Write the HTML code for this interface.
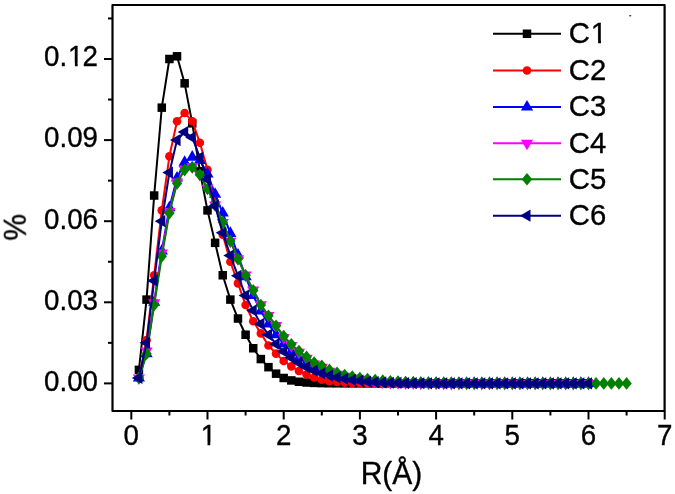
<!DOCTYPE html>
<html><head><meta charset="utf-8"><style>
html,body{margin:0;padding:0;background:#fff;}
svg{display:block;}
.t{font-family:"Liberation Sans",sans-serif;font-size:28px;fill:#000;stroke:#000;stroke-width:0.35px;}
</style></head><body>
<svg width="675" height="494" viewBox="0 0 675 494">
<rect width="675" height="494" fill="#fff"/>
<filter id="gs" x="-20%" y="-20%" width="140%" height="140%" color-interpolation-filters="sRGB"><feColorMatrix type="saturate" values="0"/></filter>
<clipPath id="cp"><rect x="112.5" y="5.0" width="552.1" height="406.0"/></clipPath>
<g clip-path="url(#cp)">
<polyline points="138.92,369.88 146.54,299.60 154.16,195.52 161.78,107.66 169.40,59.00 177.02,56.30 184.64,83.33 192.26,123.34 199.88,171.19 207.50,210.39 215.12,242.83 222.74,275.27 230.36,299.60 237.98,318.52 245.60,334.74 253.22,348.26 260.84,359.07 268.46,367.18 276.08,373.67 283.70,377.99 291.32,380.43 298.94,381.76 306.56,382.50 314.18,382.91 321.80,383.13 329.42,383.25 337.04,383.32 344.66,383.35 352.28,383.38 359.90,383.39 367.52,383.39 375.14,383.40 382.76,383.40 390.38,383.40 398.00,383.40 405.62,383.40 413.24,383.40 420.86,383.40 428.48,383.40 436.10,383.40 443.72,383.40 451.34,383.40 458.96,383.40 466.58,383.40 474.20,383.40 481.82,383.40 489.44,383.40 497.06,383.40 504.68,383.40 512.30,383.40 519.92,383.40 527.54,383.40 535.16,383.40 542.78,383.40 550.40,383.40 558.02,383.40 565.64,383.40 573.26,383.40 580.88,383.40 588.50,383.40" fill="none" stroke="#000000" stroke-width="2.0" stroke-linejoin="round"/>
<rect x="134.67" y="365.63" width="8.5" height="8.5" fill="#000000"/>
<rect x="142.29" y="295.35" width="8.5" height="8.5" fill="#000000"/>
<rect x="149.91" y="191.27" width="8.5" height="8.5" fill="#000000"/>
<rect x="157.53" y="103.41" width="8.5" height="8.5" fill="#000000"/>
<rect x="165.15" y="54.75" width="8.5" height="8.5" fill="#000000"/>
<rect x="172.77" y="52.05" width="8.5" height="8.5" fill="#000000"/>
<rect x="180.39" y="79.08" width="8.5" height="8.5" fill="#000000"/>
<rect x="188.01" y="119.09" width="8.5" height="8.5" fill="#000000"/>
<rect x="195.63" y="166.94" width="8.5" height="8.5" fill="#000000"/>
<rect x="203.25" y="206.14" width="8.5" height="8.5" fill="#000000"/>
<rect x="210.87" y="238.58" width="8.5" height="8.5" fill="#000000"/>
<rect x="218.49" y="271.02" width="8.5" height="8.5" fill="#000000"/>
<rect x="226.11" y="295.35" width="8.5" height="8.5" fill="#000000"/>
<rect x="233.73" y="314.27" width="8.5" height="8.5" fill="#000000"/>
<rect x="241.35" y="330.49" width="8.5" height="8.5" fill="#000000"/>
<rect x="248.97" y="344.01" width="8.5" height="8.5" fill="#000000"/>
<rect x="256.59" y="354.82" width="8.5" height="8.5" fill="#000000"/>
<rect x="264.21" y="362.93" width="8.5" height="8.5" fill="#000000"/>
<rect x="271.83" y="369.42" width="8.5" height="8.5" fill="#000000"/>
<rect x="279.45" y="373.74" width="8.5" height="8.5" fill="#000000"/>
<rect x="287.07" y="376.18" width="8.5" height="8.5" fill="#000000"/>
<rect x="294.69" y="377.51" width="8.5" height="8.5" fill="#000000"/>
<rect x="302.31" y="378.25" width="8.5" height="8.5" fill="#000000"/>
<rect x="309.93" y="378.66" width="8.5" height="8.5" fill="#000000"/>
<rect x="317.55" y="378.88" width="8.5" height="8.5" fill="#000000"/>
<rect x="325.17" y="379.00" width="8.5" height="8.5" fill="#000000"/>
<rect x="332.79" y="379.07" width="8.5" height="8.5" fill="#000000"/>
<rect x="340.41" y="379.10" width="8.5" height="8.5" fill="#000000"/>
<rect x="348.03" y="379.13" width="8.5" height="8.5" fill="#000000"/>
<rect x="355.65" y="379.14" width="8.5" height="8.5" fill="#000000"/>
<rect x="363.27" y="379.14" width="8.5" height="8.5" fill="#000000"/>
<rect x="370.89" y="379.15" width="8.5" height="8.5" fill="#000000"/>
<rect x="378.51" y="379.15" width="8.5" height="8.5" fill="#000000"/>
<rect x="386.13" y="379.15" width="8.5" height="8.5" fill="#000000"/>
<rect x="393.75" y="379.15" width="8.5" height="8.5" fill="#000000"/>
<rect x="401.37" y="379.15" width="8.5" height="8.5" fill="#000000"/>
<rect x="408.99" y="379.15" width="8.5" height="8.5" fill="#000000"/>
<rect x="416.61" y="379.15" width="8.5" height="8.5" fill="#000000"/>
<rect x="424.23" y="379.15" width="8.5" height="8.5" fill="#000000"/>
<rect x="431.85" y="379.15" width="8.5" height="8.5" fill="#000000"/>
<rect x="439.47" y="379.15" width="8.5" height="8.5" fill="#000000"/>
<rect x="447.09" y="379.15" width="8.5" height="8.5" fill="#000000"/>
<rect x="454.71" y="379.15" width="8.5" height="8.5" fill="#000000"/>
<rect x="462.33" y="379.15" width="8.5" height="8.5" fill="#000000"/>
<rect x="469.95" y="379.15" width="8.5" height="8.5" fill="#000000"/>
<rect x="477.57" y="379.15" width="8.5" height="8.5" fill="#000000"/>
<rect x="485.19" y="379.15" width="8.5" height="8.5" fill="#000000"/>
<rect x="492.81" y="379.15" width="8.5" height="8.5" fill="#000000"/>
<rect x="500.43" y="379.15" width="8.5" height="8.5" fill="#000000"/>
<rect x="508.05" y="379.15" width="8.5" height="8.5" fill="#000000"/>
<rect x="515.67" y="379.15" width="8.5" height="8.5" fill="#000000"/>
<rect x="523.29" y="379.15" width="8.5" height="8.5" fill="#000000"/>
<rect x="530.91" y="379.15" width="8.5" height="8.5" fill="#000000"/>
<rect x="538.53" y="379.15" width="8.5" height="8.5" fill="#000000"/>
<rect x="546.15" y="379.15" width="8.5" height="8.5" fill="#000000"/>
<rect x="553.77" y="379.15" width="8.5" height="8.5" fill="#000000"/>
<rect x="561.39" y="379.15" width="8.5" height="8.5" fill="#000000"/>
<rect x="569.01" y="379.15" width="8.5" height="8.5" fill="#000000"/>
<rect x="576.63" y="379.15" width="8.5" height="8.5" fill="#000000"/>
<rect x="584.25" y="379.15" width="8.5" height="8.5" fill="#000000"/>
<polyline points="138.92,377.99 146.54,340.15 154.16,275.27 161.78,210.39 169.40,156.32 177.02,121.18 184.64,113.07 192.26,121.18 199.88,142.81 207.50,169.84 215.12,202.28 222.74,234.72 230.36,261.75 237.98,283.38 245.60,305.00 253.22,321.22 260.84,333.39 268.46,345.55 276.08,353.66 283.70,360.96 291.32,366.37 298.94,370.96 306.56,374.48 314.18,377.45 321.80,379.62 329.42,381.13 337.04,382.04 344.66,382.58 352.28,382.91 359.90,383.11 367.52,383.22 375.14,383.29 382.76,383.34 390.38,383.36 398.00,383.38 405.62,383.39 413.24,383.39 420.86,383.40 428.48,383.40 436.10,383.40 443.72,383.40 451.34,383.40 458.96,383.40 466.58,383.40 474.20,383.40 481.82,383.40 489.44,383.40 497.06,383.40 504.68,383.40 512.30,383.40 519.92,383.40 527.54,383.40 535.16,383.40 542.78,383.40 550.40,383.40 558.02,383.40 565.64,383.40 573.26,383.40 580.88,383.40 588.50,383.40" fill="none" stroke="#ff0000" stroke-width="2.0" stroke-linejoin="round"/>
<circle cx="138.92" cy="377.99" r="4.3" fill="#ff0000"/>
<circle cx="146.54" cy="340.15" r="4.3" fill="#ff0000"/>
<circle cx="154.16" cy="275.27" r="4.3" fill="#ff0000"/>
<circle cx="161.78" cy="210.39" r="4.3" fill="#ff0000"/>
<circle cx="169.40" cy="156.32" r="4.3" fill="#ff0000"/>
<circle cx="177.02" cy="121.18" r="4.3" fill="#ff0000"/>
<circle cx="184.64" cy="113.07" r="4.3" fill="#ff0000"/>
<circle cx="192.26" cy="121.18" r="4.3" fill="#ff0000"/>
<circle cx="199.88" cy="142.81" r="4.3" fill="#ff0000"/>
<circle cx="207.50" cy="169.84" r="4.3" fill="#ff0000"/>
<circle cx="215.12" cy="202.28" r="4.3" fill="#ff0000"/>
<circle cx="222.74" cy="234.72" r="4.3" fill="#ff0000"/>
<circle cx="230.36" cy="261.75" r="4.3" fill="#ff0000"/>
<circle cx="237.98" cy="283.38" r="4.3" fill="#ff0000"/>
<circle cx="245.60" cy="305.00" r="4.3" fill="#ff0000"/>
<circle cx="253.22" cy="321.22" r="4.3" fill="#ff0000"/>
<circle cx="260.84" cy="333.39" r="4.3" fill="#ff0000"/>
<circle cx="268.46" cy="345.55" r="4.3" fill="#ff0000"/>
<circle cx="276.08" cy="353.66" r="4.3" fill="#ff0000"/>
<circle cx="283.70" cy="360.96" r="4.3" fill="#ff0000"/>
<circle cx="291.32" cy="366.37" r="4.3" fill="#ff0000"/>
<circle cx="298.94" cy="370.96" r="4.3" fill="#ff0000"/>
<circle cx="306.56" cy="374.48" r="4.3" fill="#ff0000"/>
<circle cx="314.18" cy="377.45" r="4.3" fill="#ff0000"/>
<circle cx="321.80" cy="379.62" r="4.3" fill="#ff0000"/>
<circle cx="329.42" cy="381.13" r="4.3" fill="#ff0000"/>
<circle cx="337.04" cy="382.04" r="4.3" fill="#ff0000"/>
<circle cx="344.66" cy="382.58" r="4.3" fill="#ff0000"/>
<circle cx="352.28" cy="382.91" r="4.3" fill="#ff0000"/>
<circle cx="359.90" cy="383.11" r="4.3" fill="#ff0000"/>
<circle cx="367.52" cy="383.22" r="4.3" fill="#ff0000"/>
<circle cx="375.14" cy="383.29" r="4.3" fill="#ff0000"/>
<circle cx="382.76" cy="383.34" r="4.3" fill="#ff0000"/>
<circle cx="390.38" cy="383.36" r="4.3" fill="#ff0000"/>
<circle cx="398.00" cy="383.38" r="4.3" fill="#ff0000"/>
<circle cx="405.62" cy="383.39" r="4.3" fill="#ff0000"/>
<circle cx="413.24" cy="383.39" r="4.3" fill="#ff0000"/>
<circle cx="420.86" cy="383.40" r="4.3" fill="#ff0000"/>
<circle cx="428.48" cy="383.40" r="4.3" fill="#ff0000"/>
<circle cx="436.10" cy="383.40" r="4.3" fill="#ff0000"/>
<circle cx="443.72" cy="383.40" r="4.3" fill="#ff0000"/>
<circle cx="451.34" cy="383.40" r="4.3" fill="#ff0000"/>
<circle cx="458.96" cy="383.40" r="4.3" fill="#ff0000"/>
<circle cx="466.58" cy="383.40" r="4.3" fill="#ff0000"/>
<circle cx="474.20" cy="383.40" r="4.3" fill="#ff0000"/>
<circle cx="481.82" cy="383.40" r="4.3" fill="#ff0000"/>
<circle cx="489.44" cy="383.40" r="4.3" fill="#ff0000"/>
<circle cx="497.06" cy="383.40" r="4.3" fill="#ff0000"/>
<circle cx="504.68" cy="383.40" r="4.3" fill="#ff0000"/>
<circle cx="512.30" cy="383.40" r="4.3" fill="#ff0000"/>
<circle cx="519.92" cy="383.40" r="4.3" fill="#ff0000"/>
<circle cx="527.54" cy="383.40" r="4.3" fill="#ff0000"/>
<circle cx="535.16" cy="383.40" r="4.3" fill="#ff0000"/>
<circle cx="542.78" cy="383.40" r="4.3" fill="#ff0000"/>
<circle cx="550.40" cy="383.40" r="4.3" fill="#ff0000"/>
<circle cx="558.02" cy="383.40" r="4.3" fill="#ff0000"/>
<circle cx="565.64" cy="383.40" r="4.3" fill="#ff0000"/>
<circle cx="573.26" cy="383.40" r="4.3" fill="#ff0000"/>
<circle cx="580.88" cy="383.40" r="4.3" fill="#ff0000"/>
<circle cx="588.50" cy="383.40" r="4.3" fill="#ff0000"/>
<polyline points="138.92,377.99 146.54,353.66 154.16,302.30 161.78,250.94 169.40,207.69 177.02,177.95 184.64,162.27 192.26,157.13 199.88,160.38 207.50,173.89 215.12,194.17 222.74,213.09 230.36,233.37 237.98,254.99 245.60,276.62 253.22,295.54 260.84,310.95 268.46,323.93 276.08,334.74 283.70,343.93 291.32,351.50 298.94,357.72 306.56,362.85 314.18,367.18 321.80,370.69 329.42,373.40 337.04,375.56 344.66,377.45 352.28,378.80 359.90,379.89 367.52,380.70 375.14,381.51 382.76,382.08 390.38,382.47 398.00,382.75 405.62,382.95 413.24,383.08 420.86,383.18 428.48,383.24 436.10,383.29 443.72,383.32 451.34,383.35 458.96,383.36 466.58,383.37 474.20,383.38 481.82,383.39 489.44,383.39 497.06,383.39 504.68,383.40 512.30,383.40 519.92,383.40 527.54,383.40 535.16,383.40 542.78,383.40 550.40,383.40 558.02,383.40 565.64,383.40 573.26,383.40 580.88,383.40 588.50,383.40" fill="none" stroke="#0000ff" stroke-width="2.0" stroke-linejoin="round"/>
<polygon points="138.92,370.95 132.82,381.52 145.02,381.52" fill="#0000ff"/>
<polygon points="146.54,346.62 140.44,357.19 152.64,357.19" fill="#0000ff"/>
<polygon points="154.16,295.26 148.06,305.82 160.26,305.82" fill="#0000ff"/>
<polygon points="161.78,243.89 155.68,254.46 167.88,254.46" fill="#0000ff"/>
<polygon points="169.40,200.64 163.30,211.21 175.50,211.21" fill="#0000ff"/>
<polygon points="177.02,170.91 170.92,181.47 183.12,181.47" fill="#0000ff"/>
<polygon points="184.64,155.23 178.54,165.79 190.74,165.79" fill="#0000ff"/>
<polygon points="192.26,150.09 186.16,160.66 198.36,160.66" fill="#0000ff"/>
<polygon points="199.88,153.33 193.78,163.90 205.98,163.90" fill="#0000ff"/>
<polygon points="207.50,166.85 201.40,177.42 213.60,177.42" fill="#0000ff"/>
<polygon points="215.12,187.13 209.02,197.69 221.22,197.69" fill="#0000ff"/>
<polygon points="222.74,206.05 216.64,216.61 228.84,216.61" fill="#0000ff"/>
<polygon points="230.36,226.32 224.26,236.89 236.46,236.89" fill="#0000ff"/>
<polygon points="237.98,247.95 231.88,258.52 244.08,258.52" fill="#0000ff"/>
<polygon points="245.60,269.58 239.50,280.14 251.70,280.14" fill="#0000ff"/>
<polygon points="253.22,288.50 247.12,299.06 259.32,299.06" fill="#0000ff"/>
<polygon points="260.84,303.91 254.74,314.47 266.94,314.47" fill="#0000ff"/>
<polygon points="268.46,316.88 262.36,327.45 274.56,327.45" fill="#0000ff"/>
<polygon points="276.08,327.70 269.98,338.26 282.18,338.26" fill="#0000ff"/>
<polygon points="283.70,336.89 277.60,347.45 289.80,347.45" fill="#0000ff"/>
<polygon points="291.32,344.46 285.22,355.02 297.42,355.02" fill="#0000ff"/>
<polygon points="298.94,350.67 292.84,361.24 305.04,361.24" fill="#0000ff"/>
<polygon points="306.56,355.81 300.46,366.38 312.66,366.38" fill="#0000ff"/>
<polygon points="314.18,360.14 308.08,370.70 320.28,370.70" fill="#0000ff"/>
<polygon points="321.80,363.65 315.70,374.22 327.90,374.22" fill="#0000ff"/>
<polygon points="329.42,366.35 323.32,376.92 335.52,376.92" fill="#0000ff"/>
<polygon points="337.04,368.52 330.94,379.08 343.14,379.08" fill="#0000ff"/>
<polygon points="344.66,370.41 338.56,380.97 350.76,380.97" fill="#0000ff"/>
<polygon points="352.28,371.76 346.18,382.33 358.38,382.33" fill="#0000ff"/>
<polygon points="359.90,372.84 353.80,383.41 366.00,383.41" fill="#0000ff"/>
<polygon points="367.52,373.65 361.42,384.22 373.62,384.22" fill="#0000ff"/>
<polygon points="375.14,374.46 369.04,385.03 381.24,385.03" fill="#0000ff"/>
<polygon points="382.76,375.03 376.66,385.60 388.86,385.60" fill="#0000ff"/>
<polygon points="390.38,375.43 384.28,385.99 396.48,385.99" fill="#0000ff"/>
<polygon points="398.00,375.71 391.90,386.27 404.10,386.27" fill="#0000ff"/>
<polygon points="405.62,375.90 399.52,386.47 411.72,386.47" fill="#0000ff"/>
<polygon points="413.24,376.04 407.14,386.60 419.34,386.60" fill="#0000ff"/>
<polygon points="420.86,376.13 414.76,386.70 426.96,386.70" fill="#0000ff"/>
<polygon points="428.48,376.20 422.38,386.77 434.58,386.77" fill="#0000ff"/>
<polygon points="436.10,376.25 430.00,386.81 442.20,386.81" fill="#0000ff"/>
<polygon points="443.72,376.28 437.62,386.85 449.82,386.85" fill="#0000ff"/>
<polygon points="451.34,376.30 445.24,386.87 457.44,386.87" fill="#0000ff"/>
<polygon points="458.96,376.32 452.86,386.88 465.06,386.88" fill="#0000ff"/>
<polygon points="466.58,376.33 460.48,386.90 472.68,386.90" fill="#0000ff"/>
<polygon points="474.20,376.34 468.10,386.90 480.30,386.90" fill="#0000ff"/>
<polygon points="481.82,376.34 475.72,386.91 487.92,386.91" fill="#0000ff"/>
<polygon points="489.44,376.35 483.34,386.91 495.54,386.91" fill="#0000ff"/>
<polygon points="497.06,376.35 490.96,386.92 503.16,386.92" fill="#0000ff"/>
<polygon points="504.68,376.35 498.58,386.92 510.78,386.92" fill="#0000ff"/>
<polygon points="512.30,376.35 506.20,386.92 518.40,386.92" fill="#0000ff"/>
<polygon points="519.92,376.35 513.82,386.92 526.02,386.92" fill="#0000ff"/>
<polygon points="527.54,376.35 521.44,386.92 533.64,386.92" fill="#0000ff"/>
<polygon points="535.16,376.36 529.06,386.92 541.26,386.92" fill="#0000ff"/>
<polygon points="542.78,376.36 536.68,386.92 548.88,386.92" fill="#0000ff"/>
<polygon points="550.40,376.36 544.30,386.92 556.50,386.92" fill="#0000ff"/>
<polygon points="558.02,376.36 551.92,386.92 564.12,386.92" fill="#0000ff"/>
<polygon points="565.64,376.36 559.54,386.92 571.74,386.92" fill="#0000ff"/>
<polygon points="573.26,376.36 567.16,386.92 579.36,386.92" fill="#0000ff"/>
<polygon points="580.88,376.36 574.78,386.92 586.98,386.92" fill="#0000ff"/>
<polygon points="588.50,376.36 582.40,386.92 594.60,386.92" fill="#0000ff"/>
<polyline points="138.92,377.99 146.54,350.96 154.16,302.84 161.78,253.10 169.40,211.47 177.02,182.00 184.64,169.57 192.26,166.60 199.88,174.43 207.50,188.22 215.12,204.98 222.74,222.55 230.36,241.21 237.98,258.78 245.60,275.00 253.22,290.14 260.84,304.73 268.46,315.55 276.08,325.55 283.70,337.44 291.32,345.55 298.94,352.31 306.56,358.26 314.18,363.94 321.80,367.18 329.42,371.24 337.04,374.21 344.66,376.37 352.28,377.99 359.90,379.35 367.52,380.43 375.14,381.32 382.76,381.94 390.38,382.38 398.00,382.69 405.62,382.90 413.24,383.05 420.86,383.16 428.48,383.23 436.10,383.28 443.72,383.32 451.34,383.34 458.96,383.36 466.58,383.37 474.20,383.38 481.82,383.39 489.44,383.39 497.06,383.39 504.68,383.40 512.30,383.40 519.92,383.40 527.54,383.40 535.16,383.40 542.78,383.40 550.40,383.40 558.02,383.40 565.64,383.40 573.26,383.40 580.88,383.40 588.50,383.40" fill="none" stroke="#ff00ff" stroke-width="2.0" stroke-linejoin="round"/>
<polygon points="138.92,385.04 132.82,374.47 145.02,374.47" fill="#ff00ff"/>
<polygon points="146.54,358.00 140.44,347.44 152.64,347.44" fill="#ff00ff"/>
<polygon points="154.16,309.89 148.06,299.32 160.26,299.32" fill="#ff00ff"/>
<polygon points="161.78,260.14 155.68,249.58 167.88,249.58" fill="#ff00ff"/>
<polygon points="169.40,218.51 163.30,207.95 175.50,207.95" fill="#ff00ff"/>
<polygon points="177.02,189.05 170.92,178.48 183.12,178.48" fill="#ff00ff"/>
<polygon points="184.64,176.61 178.54,166.05 190.74,166.05" fill="#ff00ff"/>
<polygon points="192.26,173.64 186.16,163.07 198.36,163.07" fill="#ff00ff"/>
<polygon points="199.88,181.48 193.78,170.91 205.98,170.91" fill="#ff00ff"/>
<polygon points="207.50,195.27 201.40,184.70 213.60,184.70" fill="#ff00ff"/>
<polygon points="215.12,212.03 209.02,201.46 221.22,201.46" fill="#ff00ff"/>
<polygon points="222.74,229.60 216.64,219.03 228.84,219.03" fill="#ff00ff"/>
<polygon points="230.36,248.25 224.26,237.68 236.46,237.68" fill="#ff00ff"/>
<polygon points="237.98,265.82 231.88,255.26 244.08,255.26" fill="#ff00ff"/>
<polygon points="245.60,282.04 239.50,271.48 251.70,271.48" fill="#ff00ff"/>
<polygon points="253.22,297.18 247.12,286.61 259.32,286.61" fill="#ff00ff"/>
<polygon points="260.84,311.78 254.74,301.21 266.94,301.21" fill="#ff00ff"/>
<polygon points="268.46,322.59 262.36,312.03 274.56,312.03" fill="#ff00ff"/>
<polygon points="276.08,332.59 269.98,322.03 282.18,322.03" fill="#ff00ff"/>
<polygon points="283.70,344.49 277.60,333.92 289.80,333.92" fill="#ff00ff"/>
<polygon points="291.32,352.60 285.22,342.03 297.42,342.03" fill="#ff00ff"/>
<polygon points="298.94,359.36 292.84,348.79 305.04,348.79" fill="#ff00ff"/>
<polygon points="306.56,365.30 300.46,354.74 312.66,354.74" fill="#ff00ff"/>
<polygon points="314.18,370.98 308.08,360.41 320.28,360.41" fill="#ff00ff"/>
<polygon points="321.80,374.22 315.70,363.66 327.90,363.66" fill="#ff00ff"/>
<polygon points="329.42,378.28 323.32,367.71 335.52,367.71" fill="#ff00ff"/>
<polygon points="337.04,381.25 330.94,370.69 343.14,370.69" fill="#ff00ff"/>
<polygon points="344.66,383.42 338.56,372.85 350.76,372.85" fill="#ff00ff"/>
<polygon points="352.28,385.04 346.18,374.47 358.38,374.47" fill="#ff00ff"/>
<polygon points="359.90,386.39 353.80,375.82 366.00,375.82" fill="#ff00ff"/>
<polygon points="367.52,387.47 361.42,376.90 373.62,376.90" fill="#ff00ff"/>
<polygon points="375.14,388.36 369.04,377.80 381.24,377.80" fill="#ff00ff"/>
<polygon points="382.76,388.99 376.66,378.42 388.86,378.42" fill="#ff00ff"/>
<polygon points="390.38,389.42 384.28,378.86 396.48,378.86" fill="#ff00ff"/>
<polygon points="398.00,389.73 391.90,379.16 404.10,379.16" fill="#ff00ff"/>
<polygon points="405.62,389.94 399.52,379.38 411.72,379.38" fill="#ff00ff"/>
<polygon points="413.24,390.09 407.14,379.53 419.34,379.53" fill="#ff00ff"/>
<polygon points="420.86,390.20 414.76,379.63 426.96,379.63" fill="#ff00ff"/>
<polygon points="428.48,390.27 422.38,379.71 434.58,379.71" fill="#ff00ff"/>
<polygon points="436.10,390.32 430.00,379.76 442.20,379.76" fill="#ff00ff"/>
<polygon points="443.72,390.36 437.62,379.79 449.82,379.79" fill="#ff00ff"/>
<polygon points="451.34,390.38 445.24,379.82 457.44,379.82" fill="#ff00ff"/>
<polygon points="458.96,390.40 452.86,379.84 465.06,379.84" fill="#ff00ff"/>
<polygon points="466.58,390.41 460.48,379.85 472.68,379.85" fill="#ff00ff"/>
<polygon points="474.20,390.42 468.10,379.86 480.30,379.86" fill="#ff00ff"/>
<polygon points="481.82,390.43 475.72,379.86 487.92,379.86" fill="#ff00ff"/>
<polygon points="489.44,390.43 483.34,379.87 495.54,379.87" fill="#ff00ff"/>
<polygon points="497.06,390.44 490.96,379.87 503.16,379.87" fill="#ff00ff"/>
<polygon points="504.68,390.44 498.58,379.87 510.78,379.87" fill="#ff00ff"/>
<polygon points="512.30,390.44 506.20,379.87 518.40,379.87" fill="#ff00ff"/>
<polygon points="519.92,390.44 513.82,379.88 526.02,379.88" fill="#ff00ff"/>
<polygon points="527.54,390.44 521.44,379.88 533.64,379.88" fill="#ff00ff"/>
<polygon points="535.16,390.44 529.06,379.88 541.26,379.88" fill="#ff00ff"/>
<polygon points="542.78,390.44 536.68,379.88 548.88,379.88" fill="#ff00ff"/>
<polygon points="550.40,390.44 544.30,379.88 556.50,379.88" fill="#ff00ff"/>
<polygon points="558.02,390.44 551.92,379.88 564.12,379.88" fill="#ff00ff"/>
<polygon points="565.64,390.44 559.54,379.88 571.74,379.88" fill="#ff00ff"/>
<polygon points="573.26,390.44 567.16,379.88 579.36,379.88" fill="#ff00ff"/>
<polygon points="580.88,390.44 574.78,379.88 586.98,379.88" fill="#ff00ff"/>
<polygon points="588.50,390.44 582.40,379.88 594.60,379.88" fill="#ff00ff"/>
<polyline points="138.92,377.99 146.54,353.66 154.16,305.00 161.78,256.34 169.40,213.09 177.02,183.36 184.64,169.84 192.26,167.14 199.88,174.71 207.50,188.76 215.12,204.98 222.74,222.28 230.36,240.94 237.98,259.05 245.60,275.27 253.22,290.41 260.84,305.00 268.46,315.82 276.08,325.82 283.70,336.09 291.32,344.20 298.94,350.96 306.56,356.91 314.18,362.58 321.80,365.83 329.42,369.88 337.04,372.86 344.66,375.02 352.28,376.64 359.90,377.99 367.52,379.07 375.14,379.94 382.76,380.63 390.38,381.19 398.00,381.63 405.62,381.98 413.24,382.27 420.86,382.49 428.48,382.67 436.10,382.82 443.72,382.94 451.34,383.03 458.96,383.10 466.58,383.16 474.20,383.21 481.82,383.25 489.44,383.28 497.06,383.30 504.68,383.32 512.30,383.34 519.92,383.35 527.54,383.36 535.16,383.37 542.78,383.37 550.40,383.38 558.02,383.38 565.64,383.39 573.26,383.39 580.88,383.39 588.50,383.39 596.12,383.39 603.74,383.40 611.36,383.40 618.98,383.40 626.60,383.40" fill="none" stroke="#008000" stroke-width="2.0" stroke-linejoin="round"/>
<polygon points="138.92,371.69 144.12,377.99 138.92,384.29 133.72,377.99" fill="#008000"/>
<polygon points="146.54,347.36 151.74,353.66 146.54,359.96 141.34,353.66" fill="#008000"/>
<polygon points="154.16,298.70 159.36,305.00 154.16,311.30 148.96,305.00" fill="#008000"/>
<polygon points="161.78,250.04 166.98,256.34 161.78,262.64 156.58,256.34" fill="#008000"/>
<polygon points="169.40,206.79 174.60,213.09 169.40,219.39 164.20,213.09" fill="#008000"/>
<polygon points="177.02,177.06 182.22,183.36 177.02,189.66 171.82,183.36" fill="#008000"/>
<polygon points="184.64,163.54 189.84,169.84 184.64,176.14 179.44,169.84" fill="#008000"/>
<polygon points="192.26,160.84 197.46,167.14 192.26,173.44 187.06,167.14" fill="#008000"/>
<polygon points="199.88,168.41 205.08,174.71 199.88,181.01 194.68,174.71" fill="#008000"/>
<polygon points="207.50,182.46 212.70,188.76 207.50,195.06 202.30,188.76" fill="#008000"/>
<polygon points="215.12,198.68 220.32,204.98 215.12,211.28 209.92,204.98" fill="#008000"/>
<polygon points="222.74,215.98 227.94,222.28 222.74,228.58 217.54,222.28" fill="#008000"/>
<polygon points="230.36,234.64 235.56,240.94 230.36,247.24 225.16,240.94" fill="#008000"/>
<polygon points="237.98,252.75 243.18,259.05 237.98,265.35 232.78,259.05" fill="#008000"/>
<polygon points="245.60,268.97 250.80,275.27 245.60,281.57 240.40,275.27" fill="#008000"/>
<polygon points="253.22,284.11 258.42,290.41 253.22,296.71 248.02,290.41" fill="#008000"/>
<polygon points="260.84,298.70 266.04,305.00 260.84,311.30 255.64,305.00" fill="#008000"/>
<polygon points="268.46,309.52 273.66,315.82 268.46,322.12 263.26,315.82" fill="#008000"/>
<polygon points="276.08,319.52 281.28,325.82 276.08,332.12 270.88,325.82" fill="#008000"/>
<polygon points="283.70,329.79 288.90,336.09 283.70,342.39 278.50,336.09" fill="#008000"/>
<polygon points="291.32,337.90 296.52,344.20 291.32,350.50 286.12,344.20" fill="#008000"/>
<polygon points="298.94,344.66 304.14,350.96 298.94,357.26 293.74,350.96" fill="#008000"/>
<polygon points="306.56,350.61 311.76,356.91 306.56,363.21 301.36,356.91" fill="#008000"/>
<polygon points="314.18,356.28 319.38,362.58 314.18,368.88 308.98,362.58" fill="#008000"/>
<polygon points="321.80,359.53 327.00,365.83 321.80,372.13 316.60,365.83" fill="#008000"/>
<polygon points="329.42,363.58 334.62,369.88 329.42,376.18 324.22,369.88" fill="#008000"/>
<polygon points="337.04,366.56 342.24,372.86 337.04,379.16 331.84,372.86" fill="#008000"/>
<polygon points="344.66,368.72 349.86,375.02 344.66,381.32 339.46,375.02" fill="#008000"/>
<polygon points="352.28,370.34 357.48,376.64 352.28,382.94 347.08,376.64" fill="#008000"/>
<polygon points="359.90,371.69 365.10,377.99 359.90,384.29 354.70,377.99" fill="#008000"/>
<polygon points="367.52,372.77 372.72,379.07 367.52,385.37 362.32,379.07" fill="#008000"/>
<polygon points="375.14,373.64 380.34,379.94 375.14,386.24 369.94,379.94" fill="#008000"/>
<polygon points="382.76,374.33 387.96,380.63 382.76,386.93 377.56,380.63" fill="#008000"/>
<polygon points="390.38,374.89 395.58,381.19 390.38,387.49 385.18,381.19" fill="#008000"/>
<polygon points="398.00,375.33 403.20,381.63 398.00,387.93 392.80,381.63" fill="#008000"/>
<polygon points="405.62,375.68 410.82,381.98 405.62,388.28 400.42,381.98" fill="#008000"/>
<polygon points="413.24,375.97 418.44,382.27 413.24,388.57 408.04,382.27" fill="#008000"/>
<polygon points="420.86,376.19 426.06,382.49 420.86,388.79 415.66,382.49" fill="#008000"/>
<polygon points="428.48,376.37 433.68,382.67 428.48,388.97 423.28,382.67" fill="#008000"/>
<polygon points="436.10,376.52 441.30,382.82 436.10,389.12 430.90,382.82" fill="#008000"/>
<polygon points="443.72,376.64 448.92,382.94 443.72,389.24 438.52,382.94" fill="#008000"/>
<polygon points="451.34,376.73 456.54,383.03 451.34,389.33 446.14,383.03" fill="#008000"/>
<polygon points="458.96,376.80 464.16,383.10 458.96,389.40 453.76,383.10" fill="#008000"/>
<polygon points="466.58,376.86 471.78,383.16 466.58,389.46 461.38,383.16" fill="#008000"/>
<polygon points="474.20,376.91 479.40,383.21 474.20,389.51 469.00,383.21" fill="#008000"/>
<polygon points="481.82,376.95 487.02,383.25 481.82,389.55 476.62,383.25" fill="#008000"/>
<polygon points="489.44,376.98 494.64,383.28 489.44,389.58 484.24,383.28" fill="#008000"/>
<polygon points="497.06,377.00 502.26,383.30 497.06,389.60 491.86,383.30" fill="#008000"/>
<polygon points="504.68,377.02 509.88,383.32 504.68,389.62 499.48,383.32" fill="#008000"/>
<polygon points="512.30,377.04 517.50,383.34 512.30,389.64 507.10,383.34" fill="#008000"/>
<polygon points="519.92,377.05 525.12,383.35 519.92,389.65 514.72,383.35" fill="#008000"/>
<polygon points="527.54,377.06 532.74,383.36 527.54,389.66 522.34,383.36" fill="#008000"/>
<polygon points="535.16,377.07 540.36,383.37 535.16,389.67 529.96,383.37" fill="#008000"/>
<polygon points="542.78,377.07 547.98,383.37 542.78,389.67 537.58,383.37" fill="#008000"/>
<polygon points="550.40,377.08 555.60,383.38 550.40,389.68 545.20,383.38" fill="#008000"/>
<polygon points="558.02,377.08 563.22,383.38 558.02,389.68 552.82,383.38" fill="#008000"/>
<polygon points="565.64,377.09 570.84,383.39 565.64,389.69 560.44,383.39" fill="#008000"/>
<polygon points="573.26,377.09 578.46,383.39 573.26,389.69 568.06,383.39" fill="#008000"/>
<polygon points="580.88,377.09 586.08,383.39 580.88,389.69 575.68,383.39" fill="#008000"/>
<polygon points="588.50,377.09 593.70,383.39 588.50,389.69 583.30,383.39" fill="#008000"/>
<polygon points="596.12,377.09 601.32,383.39 596.12,389.69 590.92,383.39" fill="#008000"/>
<polygon points="603.74,377.10 608.94,383.40 603.74,389.70 598.54,383.40" fill="#008000"/>
<polygon points="611.36,377.10 616.56,383.40 611.36,389.70 606.16,383.40" fill="#008000"/>
<polygon points="618.98,377.10 624.18,383.40 618.98,389.70 613.78,383.40" fill="#008000"/>
<polygon points="626.60,377.10 631.80,383.40 626.60,389.70 621.40,383.40" fill="#008000"/>
<polyline points="138.92,377.99 146.54,342.85 154.16,280.67 161.78,221.20 169.40,172.54 177.02,140.10 184.64,131.99 192.26,137.40 199.88,157.67 207.50,179.30 215.12,206.06 222.74,232.83 230.36,255.53 237.98,275.81 245.60,295.54 253.22,310.41 260.84,323.93 268.46,334.74 276.08,343.93 283.70,351.50 291.32,357.72 298.94,362.85 306.56,367.18 314.18,370.69 321.80,373.40 329.42,375.56 337.04,377.45 344.66,378.80 352.28,379.89 359.90,380.70 367.52,381.51 375.14,382.08 382.76,382.47 390.38,382.75 398.00,382.95 405.62,383.08 413.24,383.18 420.86,383.24 428.48,383.29 436.10,383.32 443.72,383.35 451.34,383.36 458.96,383.37 466.58,383.38 474.20,383.39 481.82,383.39 489.44,383.39 497.06,383.40 504.68,383.40 512.30,383.40 519.92,383.40 527.54,383.40 535.16,383.40 542.78,383.40 550.40,383.40 558.02,383.40 565.64,383.40 573.26,383.40 580.88,383.40 588.50,383.40" fill="none" stroke="#000080" stroke-width="2.0" stroke-linejoin="round"/>
<polygon points="131.88,377.99 142.44,371.89 142.44,384.09" fill="#000080"/>
<polygon points="139.50,342.85 150.06,336.75 150.06,348.95" fill="#000080"/>
<polygon points="147.12,280.67 157.68,274.57 157.68,286.77" fill="#000080"/>
<polygon points="154.74,221.20 165.30,215.10 165.30,227.30" fill="#000080"/>
<polygon points="162.36,172.54 172.92,166.44 172.92,178.64" fill="#000080"/>
<polygon points="169.98,140.10 180.54,134.00 180.54,146.20" fill="#000080"/>
<polygon points="177.60,131.99 188.16,125.89 188.16,138.09" fill="#000080"/>
<polygon points="185.22,137.40 195.78,131.30 195.78,143.50" fill="#000080"/>
<polygon points="192.84,157.67 203.40,151.57 203.40,163.77" fill="#000080"/>
<polygon points="200.46,179.30 211.02,173.20 211.02,185.40" fill="#000080"/>
<polygon points="208.08,206.06 218.64,199.96 218.64,212.16" fill="#000080"/>
<polygon points="215.70,232.83 226.26,226.73 226.26,238.93" fill="#000080"/>
<polygon points="223.32,255.53 233.88,249.43 233.88,261.63" fill="#000080"/>
<polygon points="230.94,275.81 241.50,269.71 241.50,281.91" fill="#000080"/>
<polygon points="238.56,295.54 249.12,289.44 249.12,301.64" fill="#000080"/>
<polygon points="246.18,310.41 256.74,304.31 256.74,316.51" fill="#000080"/>
<polygon points="253.80,323.93 264.36,317.83 264.36,330.03" fill="#000080"/>
<polygon points="261.42,334.74 271.98,328.64 271.98,340.84" fill="#000080"/>
<polygon points="269.04,343.93 279.60,337.83 279.60,350.03" fill="#000080"/>
<polygon points="276.66,351.50 287.22,345.40 287.22,357.60" fill="#000080"/>
<polygon points="284.28,357.72 294.84,351.62 294.84,363.82" fill="#000080"/>
<polygon points="291.90,362.85 302.46,356.75 302.46,368.95" fill="#000080"/>
<polygon points="299.52,367.18 310.08,361.08 310.08,373.28" fill="#000080"/>
<polygon points="307.14,370.69 317.70,364.59 317.70,376.79" fill="#000080"/>
<polygon points="314.76,373.40 325.32,367.30 325.32,379.50" fill="#000080"/>
<polygon points="322.38,375.56 332.94,369.46 332.94,381.66" fill="#000080"/>
<polygon points="330.00,377.45 340.56,371.35 340.56,383.55" fill="#000080"/>
<polygon points="337.62,378.80 348.18,372.70 348.18,384.90" fill="#000080"/>
<polygon points="345.24,379.89 355.80,373.79 355.80,385.99" fill="#000080"/>
<polygon points="352.86,380.70 363.42,374.60 363.42,386.80" fill="#000080"/>
<polygon points="360.48,381.51 371.04,375.41 371.04,387.61" fill="#000080"/>
<polygon points="368.10,382.08 378.66,375.98 378.66,388.18" fill="#000080"/>
<polygon points="375.72,382.47 386.28,376.37 386.28,388.57" fill="#000080"/>
<polygon points="383.34,382.75 393.90,376.65 393.90,388.85" fill="#000080"/>
<polygon points="390.96,382.95 401.52,376.85 401.52,389.05" fill="#000080"/>
<polygon points="398.58,383.08 409.14,376.98 409.14,389.18" fill="#000080"/>
<polygon points="406.20,383.18 416.76,377.08 416.76,389.28" fill="#000080"/>
<polygon points="413.82,383.24 424.38,377.14 424.38,389.34" fill="#000080"/>
<polygon points="421.44,383.29 432.00,377.19 432.00,389.39" fill="#000080"/>
<polygon points="429.06,383.32 439.62,377.22 439.62,389.42" fill="#000080"/>
<polygon points="436.68,383.35 447.24,377.25 447.24,389.45" fill="#000080"/>
<polygon points="444.30,383.36 454.86,377.26 454.86,389.46" fill="#000080"/>
<polygon points="451.92,383.37 462.48,377.27 462.48,389.47" fill="#000080"/>
<polygon points="459.54,383.38 470.10,377.28 470.10,389.48" fill="#000080"/>
<polygon points="467.16,383.39 477.72,377.29 477.72,389.49" fill="#000080"/>
<polygon points="474.78,383.39 485.34,377.29 485.34,389.49" fill="#000080"/>
<polygon points="482.40,383.39 492.96,377.29 492.96,389.49" fill="#000080"/>
<polygon points="490.02,383.40 500.58,377.30 500.58,389.50" fill="#000080"/>
<polygon points="497.64,383.40 508.20,377.30 508.20,389.50" fill="#000080"/>
<polygon points="505.26,383.40 515.82,377.30 515.82,389.50" fill="#000080"/>
<polygon points="512.88,383.40 523.44,377.30 523.44,389.50" fill="#000080"/>
<polygon points="520.50,383.40 531.06,377.30 531.06,389.50" fill="#000080"/>
<polygon points="528.12,383.40 538.68,377.30 538.68,389.50" fill="#000080"/>
<polygon points="535.74,383.40 546.30,377.30 546.30,389.50" fill="#000080"/>
<polygon points="543.36,383.40 553.92,377.30 553.92,389.50" fill="#000080"/>
<polygon points="550.98,383.40 561.54,377.30 561.54,389.50" fill="#000080"/>
<polygon points="558.60,383.40 569.16,377.30 569.16,389.50" fill="#000080"/>
<polygon points="566.22,383.40 576.78,377.30 576.78,389.50" fill="#000080"/>
<polygon points="573.84,383.40 584.40,377.30 584.40,389.50" fill="#000080"/>
<polygon points="581.46,383.40 592.02,377.30 592.02,389.50" fill="#000080"/>
</g>
<rect x="112.5" y="5.0" width="552.1" height="406.0" fill="none" stroke="#000" stroke-width="2.2" stroke-linejoin="round"/>
<line x1="131.30" y1="411.0" x2="131.30" y2="419.5" stroke="#000" stroke-width="2"/>
<text filter="url(#gs)" transform="translate(131.30,445.40) scale(1,1.045)" text-anchor="middle" class="t" style="font-size:27.7px">0</text>
<line x1="207.50" y1="411.0" x2="207.50" y2="419.5" stroke="#000" stroke-width="2"/>
<text filter="url(#gs)" transform="translate(208.40,445.40) scale(1,1.045)" text-anchor="middle" class="t" style="font-size:27.7px">1</text>
<rect x="201.51" y="441.94" width="6.00" height="4.26" fill="#fff"/>
<rect x="210.26" y="441.94" width="5.73" height="4.26" fill="#fff"/>
<line x1="283.70" y1="411.0" x2="283.70" y2="419.5" stroke="#000" stroke-width="2"/>
<text filter="url(#gs)" transform="translate(283.70,445.40) scale(1,1.045)" text-anchor="middle" class="t" style="font-size:27.7px">2</text>
<line x1="359.90" y1="411.0" x2="359.90" y2="419.5" stroke="#000" stroke-width="2"/>
<text filter="url(#gs)" transform="translate(359.90,445.40) scale(1,1.045)" text-anchor="middle" class="t" style="font-size:27.7px">3</text>
<line x1="436.10" y1="411.0" x2="436.10" y2="419.5" stroke="#000" stroke-width="2"/>
<text filter="url(#gs)" transform="translate(436.10,445.40) scale(1,1.045)" text-anchor="middle" class="t" style="font-size:27.7px">4</text>
<line x1="512.30" y1="411.0" x2="512.30" y2="419.5" stroke="#000" stroke-width="2"/>
<text filter="url(#gs)" transform="translate(512.30,445.40) scale(1,1.045)" text-anchor="middle" class="t" style="font-size:27.7px">5</text>
<line x1="588.50" y1="411.0" x2="588.50" y2="419.5" stroke="#000" stroke-width="2"/>
<text filter="url(#gs)" transform="translate(588.50,445.40) scale(1,1.045)" text-anchor="middle" class="t" style="font-size:27.7px">6</text>
<line x1="664.70" y1="411.0" x2="664.70" y2="419.5" stroke="#000" stroke-width="2"/>
<text filter="url(#gs)" transform="translate(664.70,445.40) scale(1,1.045)" text-anchor="middle" class="t" style="font-size:27.7px">7</text>
<line x1="169.40" y1="411.0" x2="169.40" y2="415.5" stroke="#000" stroke-width="2"/>
<line x1="245.60" y1="411.0" x2="245.60" y2="415.5" stroke="#000" stroke-width="2"/>
<line x1="321.80" y1="411.0" x2="321.80" y2="415.5" stroke="#000" stroke-width="2"/>
<line x1="398.00" y1="411.0" x2="398.00" y2="415.5" stroke="#000" stroke-width="2"/>
<line x1="474.20" y1="411.0" x2="474.20" y2="415.5" stroke="#000" stroke-width="2"/>
<line x1="550.40" y1="411.0" x2="550.40" y2="415.5" stroke="#000" stroke-width="2"/>
<line x1="626.60" y1="411.0" x2="626.60" y2="415.5" stroke="#000" stroke-width="2"/>
<line x1="112.5" y1="383.40" x2="104.0" y2="383.40" stroke="#000" stroke-width="2"/>
<text filter="url(#gs)" transform="translate(98.00,390.70) scale(1,1.045)" text-anchor="end" class="t" style="font-size:27.7px">0.00</text>
<line x1="112.5" y1="302.30" x2="104.0" y2="302.30" stroke="#000" stroke-width="2"/>
<text filter="url(#gs)" transform="translate(98.00,309.60) scale(1,1.045)" text-anchor="end" class="t" style="font-size:27.7px">0.03</text>
<line x1="112.5" y1="221.20" x2="104.0" y2="221.20" stroke="#000" stroke-width="2"/>
<text filter="url(#gs)" transform="translate(98.00,228.50) scale(1,1.045)" text-anchor="end" class="t" style="font-size:27.7px">0.06</text>
<line x1="112.5" y1="140.10" x2="104.0" y2="140.10" stroke="#000" stroke-width="2"/>
<text filter="url(#gs)" transform="translate(98.00,147.40) scale(1,1.045)" text-anchor="end" class="t" style="font-size:27.7px">0.09</text>
<line x1="112.5" y1="59.00" x2="104.0" y2="59.00" stroke="#000" stroke-width="2"/>
<text filter="url(#gs)" transform="translate(98.00,66.30) scale(1,1.045)" text-anchor="end" class="t" style="font-size:27.7px">0.<tspan dx="0.90">1</tspan><tspan dx="-0.90">2</tspan></text>
<rect x="68.90" y="62.84" width="6.00" height="4.26" fill="#fff"/>
<rect x="77.65" y="62.84" width="5.73" height="4.26" fill="#fff"/>
<line x1="112.5" y1="342.85" x2="108.0" y2="342.85" stroke="#000" stroke-width="2"/>
<line x1="112.5" y1="261.75" x2="108.0" y2="261.75" stroke="#000" stroke-width="2"/>
<line x1="112.5" y1="180.65" x2="108.0" y2="180.65" stroke="#000" stroke-width="2"/>
<line x1="112.5" y1="99.55" x2="108.0" y2="99.55" stroke="#000" stroke-width="2"/>
<line x1="112.5" y1="18.45" x2="108.0" y2="18.45" stroke="#000" stroke-width="2"/>
<text filter="url(#gs)" transform="translate(391.50,483.80) scale(1,1.045)" text-anchor="middle" class="t" style="font-size:30px">R(Å)</text>
<text filter="url(#gs)" transform="translate(25.8,227.4) rotate(-90) scale(1,1.02)" text-anchor="middle" class="t" style="font-size:30px">%</text>
<line x1="493" y1="33.75" x2="561" y2="33.75" stroke="#000000" stroke-width="2.0"/>
<rect x="522.75" y="29.50" width="8.5" height="8.5" fill="#000000"/>
<text filter="url(#gs)" transform="translate(568.80,43.25) scale(1,1.035)" text-anchor="start" class="t" style="font-size:29.3px">C<tspan dx="0.90">1</tspan></text>
<rect x="591.72" y="39.68" width="6.36" height="4.37" fill="#fff"/>
<rect x="600.97" y="39.68" width="6.07" height="4.37" fill="#fff"/>
<line x1="493" y1="70.45" x2="561" y2="70.45" stroke="#ff0000" stroke-width="2.0"/>
<circle cx="527.00" cy="70.45" r="4.3" fill="#ff0000"/>
<text filter="url(#gs)" transform="translate(568.80,79.95) scale(1,1.035)" text-anchor="start" class="t" style="font-size:29.3px">C2</text>
<line x1="493" y1="106.95" x2="561" y2="106.95" stroke="#0000ff" stroke-width="2.0"/>
<polygon points="527.00,99.91 520.90,110.47 533.10,110.47" fill="#0000ff"/>
<text filter="url(#gs)" transform="translate(568.80,116.45) scale(1,1.035)" text-anchor="start" class="t" style="font-size:29.3px">C3</text>
<line x1="493" y1="143.15" x2="561" y2="143.15" stroke="#ff00ff" stroke-width="2.0"/>
<polygon points="527.00,150.19 520.90,139.63 533.10,139.63" fill="#ff00ff"/>
<text filter="url(#gs)" transform="translate(568.80,152.65) scale(1,1.035)" text-anchor="start" class="t" style="font-size:29.3px">C4</text>
<line x1="493" y1="179.25" x2="561" y2="179.25" stroke="#008000" stroke-width="2.0"/>
<polygon points="527.00,172.95 532.20,179.25 527.00,185.55 521.80,179.25" fill="#008000"/>
<text filter="url(#gs)" transform="translate(568.80,188.75) scale(1,1.035)" text-anchor="start" class="t" style="font-size:29.3px">C5</text>
<line x1="493" y1="215.65" x2="561" y2="215.65" stroke="#000080" stroke-width="2.0"/>
<polygon points="519.96,215.65 530.52,209.55 530.52,221.75" fill="#000080"/>
<text filter="url(#gs)" transform="translate(568.80,225.15) scale(1,1.035)" text-anchor="start" class="t" style="font-size:29.3px">C6</text>
<rect x="629.2" y="15" width="2" height="1.4" fill="#444"/>
</svg>
</body></html>
